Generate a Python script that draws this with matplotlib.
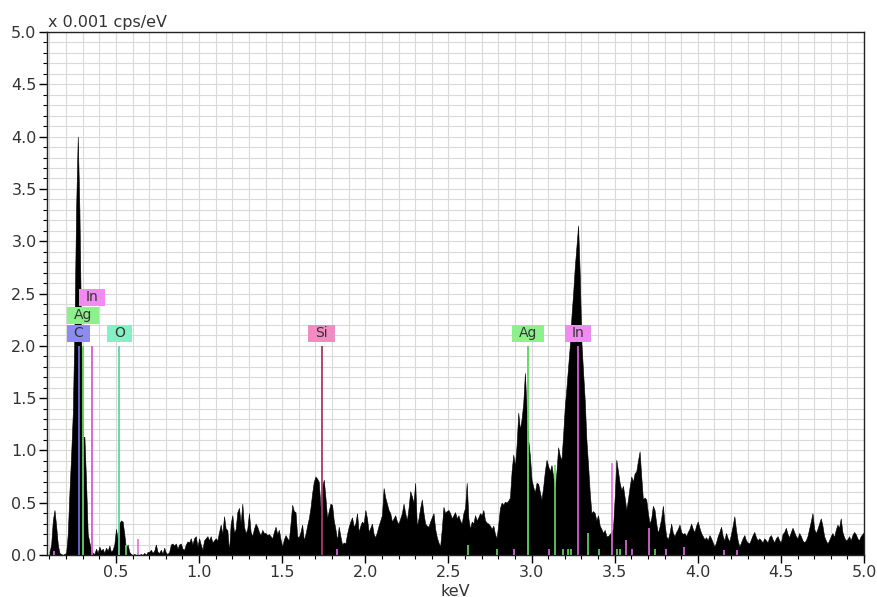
import numpy as np
import matplotlib
matplotlib.use("Agg")
import matplotlib.pyplot as plt
from matplotlib.ticker import MultipleLocator, FormatStrFormatter
from matplotlib.patches import Rectangle

# ---------------- data ----------------
E_START = 0.10   # keV of first channel
E_STEP = 0.01    # keV per channel
counts = [
    # 0.10
    0.03, 0.10, 0.33, 0.43, 0.28, 0.10, 0.02, 0.01, 0.00, 0.01,
    # 0.20
    0.02, 0.20, 0.60, 0.95, 1.35, 2.15, 3.30, 4.00, 3.30, 2.15,
    # 0.30
    1.13, 1.13, 0.70, 0.20, 0.12, 0.05, 0.02, 0.01, 0.06, 0.02,
    # 0.40
    0.08, 0.04, 0.06, 0.02, 0.07, 0.04, 0.09, 0.03, 0.05, 0.10,
    # 0.50
    0.25, 0.15, 0.30, 0.33, 0.32, 0.20, 0.06, 0.10, 0.03, 0.01,
    # 0.60
    0.00, 0.01, 0.00, 0.01, 0.00, 0.01, 0.00, 0.02, 0.00, 0.03,
    # 0.70
    0.03, 0.05, 0.02, 0.04, 0.10, 0.03, 0.02, 0.05, 0.01, 0.07,
    # 0.80
    0.02, 0.01, 0.03, 0.10, 0.11, 0.09, 0.11, 0.06, 0.10, 0.11,
    # 0.90
    0.06, 0.05, 0.10, 0.13, 0.12, 0.16, 0.10, 0.16, 0.18, 0.08,
    # 1.00
    0.16, 0.10, 0.05, 0.14, 0.16, 0.18, 0.14, 0.18, 0.12, 0.14,
    # 1.10
    0.16, 0.14, 0.22, 0.29, 0.20, 0.37, 0.25, 0.24, 0.03, 0.30,
    # 1.20
    0.38, 0.21, 0.25, 0.41, 0.45, 0.30, 0.49, 0.27, 0.21, 0.25,
    # 1.30
    0.40, 0.22, 0.18, 0.25, 0.30, 0.27, 0.22, 0.19, 0.24, 0.21,
    # 1.40
    0.21, 0.19, 0.20, 0.18, 0.16, 0.22, 0.27, 0.20, 0.24, 0.15,
    # 1.50
    0.08, 0.15, 0.19, 0.16, 0.14, 0.30, 0.48, 0.42, 0.41, 0.18,
    # 1.60
    0.17, 0.22, 0.29, 0.14, 0.20, 0.28, 0.35, 0.45, 0.59, 0.70,
    # 1.70
    0.75, 0.73, 0.70, 0.46, 0.65, 0.72, 0.55, 0.35, 0.42, 0.49,
    # 1.80
    0.48, 0.33, 0.25, 0.14, 0.27, 0.18, 0.10, 0.12, 0.11, 0.20,
    # 1.90
    0.27, 0.32, 0.36, 0.27, 0.30, 0.40, 0.22, 0.28, 0.32, 0.30,
    # 2.00
    0.43, 0.35, 0.22, 0.26, 0.30, 0.20, 0.17, 0.22, 0.28, 0.33,
    # 2.10
    0.38, 0.64, 0.55, 0.49, 0.43, 0.40, 0.32, 0.35, 0.38, 0.32,
    # 2.20
    0.30, 0.35, 0.40, 0.49, 0.40, 0.33, 0.45, 0.61, 0.56, 0.50,
    # 2.30
    0.69, 0.27, 0.35, 0.45, 0.53, 0.40, 0.30, 0.28, 0.27, 0.32,
    # 2.40
    0.36, 0.40, 0.25, 0.17, 0.12, 0.08, 0.25, 0.46, 0.40, 0.42,
    # 2.50
    0.43, 0.40, 0.35, 0.38, 0.41, 0.35, 0.38, 0.33, 0.30, 0.40,
    # 2.60
    0.45, 0.69, 0.35, 0.25, 0.32, 0.30, 0.38, 0.33, 0.36, 0.40,
    # 2.70
    0.38, 0.43, 0.33, 0.31, 0.30, 0.28, 0.25, 0.28, 0.20, 0.16,
    # 2.80
    0.30, 0.45, 0.50, 0.48, 0.51, 0.50, 0.52, 0.55, 0.80, 0.96,
    # 2.90
    0.85, 1.05, 1.36, 1.20, 1.30, 1.45, 1.74, 1.40, 1.10, 0.95,
    # 3.00
    0.72, 0.65, 0.60, 0.69, 0.68, 0.60, 0.53, 0.65, 0.80, 0.91,
    # 3.10
    0.85, 0.80, 0.86, 0.75, 0.63, 0.80, 1.03, 0.95, 0.91, 1.15,
    # 3.20
    1.42, 1.60, 1.80, 2.00, 2.28, 2.50, 2.75, 2.95, 3.15, 2.68,
    # 3.30
    2.03, 1.75, 1.48, 1.10, 0.86, 0.60, 0.40, 0.42, 0.40, 0.33,
    # 3.40
    0.38, 0.28, 0.25, 0.21, 0.24, 0.18, 0.18, 0.20, 0.22, 0.25,
    # 3.50
    0.55, 0.91, 0.80, 0.69, 0.62, 0.66, 0.55, 0.43, 0.53, 0.65,
    # 3.60
    0.75, 0.70, 0.78, 0.80, 0.90, 0.99, 0.75, 0.53, 0.55, 0.53,
    # 3.70
    0.40, 0.30, 0.35, 0.47, 0.43, 0.30, 0.21, 0.27, 0.35, 0.47,
    # 3.80
    0.30, 0.18, 0.15, 0.21, 0.30, 0.21, 0.18, 0.22, 0.25, 0.29,
    # 3.90
    0.22, 0.20, 0.21, 0.18, 0.22, 0.25, 0.30, 0.25, 0.22, 0.28,
    # 4.00
    0.32, 0.26, 0.21, 0.18, 0.15, 0.17, 0.14, 0.19, 0.16, 0.12,
    # 4.10
    0.08, 0.12, 0.18, 0.22, 0.27, 0.18, 0.14, 0.21, 0.16, 0.13,
    # 4.20
    0.20, 0.28, 0.37, 0.24, 0.14, 0.08, 0.12, 0.16, 0.19, 0.14,
    # 4.30
    0.12, 0.11, 0.15, 0.19, 0.22, 0.17, 0.14, 0.16, 0.14, 0.12,
    # 4.40
    0.16, 0.14, 0.12, 0.17, 0.19, 0.15, 0.12, 0.16, 0.18, 0.14,
    # 4.50
    0.12, 0.20, 0.22, 0.26, 0.20, 0.17, 0.22, 0.26, 0.22, 0.18,
    # 4.60
    0.16, 0.21, 0.18, 0.14, 0.12, 0.14, 0.18, 0.25, 0.32, 0.40,
    # 4.70
    0.25, 0.21, 0.25, 0.30, 0.35, 0.28, 0.18, 0.14, 0.11, 0.14,
    # 4.80
    0.18, 0.21, 0.17, 0.24, 0.29, 0.26, 0.35, 0.22, 0.17, 0.14,
    # 4.90
    0.15, 0.18, 0.14, 0.19, 0.22, 0.20, 0.16, 0.14, 0.18, 0.20,
    # 5.00
    0.22,
]

# main element lines with labels
line_elements = ["C", "Ag", "In", "O", "Si", "Ag", "In"]
line_energies = [0.275, 0.302, 0.356, 0.520, 1.737, 2.978, 3.279]
line_heights = [2.0, 2.0, 2.0, 2.0, 2.0, 2.0, 2.0]

# minor (unlabelled) lines
minor_in_energies = [0.13, 0.635, 1.828, 2.893, 3.106, 3.482, 3.570, 3.602,
                     3.708, 3.810, 3.918, 4.158, 4.234]
minor_in_heights = [0.04, 0.15, 0.06, 0.06, 0.06, 0.88, 0.14, 0.06,
                    0.26, 0.06, 0.08, 0.05, 0.05]
minor_ag_energies = [0.561, 2.620, 2.790, 3.143, 3.190, 3.220, 3.240, 3.338,
                     3.403, 3.512, 3.532, 3.742]
minor_ag_heights = [0.10, 0.10, 0.06, 0.86, 0.06, 0.06, 0.06, 0.21,
                    0.06, 0.06, 0.06, 0.06]

x_ticks = [0.5, 1.0, 1.5, 2.0, 2.5, 3.0, 3.5, 4.0, 4.5, 5.0]
y_ticks = [0.0, 0.5, 1.0, 1.5, 2.0, 2.5, 3.0, 3.5, 4.0, 4.5, 5.0]

# ---------------- styles ----------------
line_colors = {"C": "#6a6ad8", "Ag": "#5cd65c", "In": "#d85ad8",
               "O": "#5cd6a2", "Si": "#a83a68"}
box_colors = {"C": "#8c8cf0", "Ag": "#8cf08c", "In": "#f08cf0",
              "O": "#84f0c4", "Si": "#f08cc2"}
label_rows = [0, 1, 2, 0, 0, 0, 0]
minor_in_color = "#e070e0"
minor_ag_color = "#66dd66"
text_color = "#333333"
TICK_FS = 11.5

W, H = 877, 597
fig = plt.figure(figsize=(W / 100, H / 100), dpi=100)
ax = fig.add_axes([47 / W, 1 - 555 / H, (864 - 47) / W, (555 - 32) / H])
ax.set_xlim(0.085, 5.0)
ax.set_ylim(0.0, 5.0)

energies = E_START + E_STEP * np.arange(len(counts))
ax.fill_between(energies, counts, 0, color="black", lw=0.4, zorder=2)

# minor lines
ax.vlines(minor_in_energies, 0, minor_in_heights, colors=minor_in_color,
          lw=1.2, zorder=3)
ax.vlines(minor_ag_energies, 0, minor_ag_heights, colors=minor_ag_color,
          lw=1.2, zorder=3)

# main lines
for el, e, h in zip(line_elements, line_energies, line_heights):
    ax.vlines(e, 0, h, colors=line_colors[el], lw=1.3, zorder=4)

# axes styling
ax.set_axisbelow(True)
ax.xaxis.set_major_locator(MultipleLocator(0.5))
ax.xaxis.set_minor_locator(MultipleLocator(0.1))
ax.yaxis.set_major_locator(MultipleLocator(0.5))
ax.yaxis.set_minor_locator(MultipleLocator(0.1))
ax.set_xticks(x_ticks)
ax.set_yticks(y_ticks)
ax.xaxis.set_major_formatter(FormatStrFormatter("%.1f"))
ax.yaxis.set_major_formatter(FormatStrFormatter("%.1f"))
ax.grid(which="both", color="#d9d9d9", lw=0.8, zorder=0)
ax.tick_params(which="major", direction="out", length=6, width=1,
               labelsize=TICK_FS, labelcolor=text_color, pad=1.5)
ax.tick_params(which="minor", direction="out", length=3, width=0.8)
for s in ax.spines.values():
    s.set_color("#222222")
    s.set_linewidth(1.0)

# labels boxes
fig.canvas.draw()
renderer = fig.canvas.get_renderer()
inv = ax.transData.inverted()
box_h_px = 17
row_step_px = 18
for el, e, h, row in zip(line_elements, line_energies, line_heights, label_rows):
    x_disp, y_disp = ax.transData.transform((e, h))
    y_bottom = y_disp + 4 + row * row_step_px
    t = ax.text(e, 0, el, fontsize=10, color=text_color, ha="center",
                va="center", zorder=7)
    bb = t.get_window_extent(renderer)
    w_px = bb.width + 14
    (x0, y0) = inv.transform((x_disp - w_px / 2, y_bottom))
    (x1, y1) = inv.transform((x_disp + w_px / 2, y_bottom + box_h_px))
    ax.add_patch(Rectangle((x0, y0), x1 - x0, y1 - y0, facecolor=box_colors[el],
                           edgecolor="none", zorder=6))
    t.set_position((e, (y0 + y1) / 2))

fig.text(48 / W, 1 - 26.5 / H, "x 0.001 cps/eV", fontsize=TICK_FS,
         color=text_color, ha="left", va="baseline")
fig.text(455.5 / W, 1 - 595.5 / H, "keV", fontsize=TICK_FS, color=text_color,
         ha="center", va="baseline")

fig.savefig("out.png", dpi=100, facecolor="white")
